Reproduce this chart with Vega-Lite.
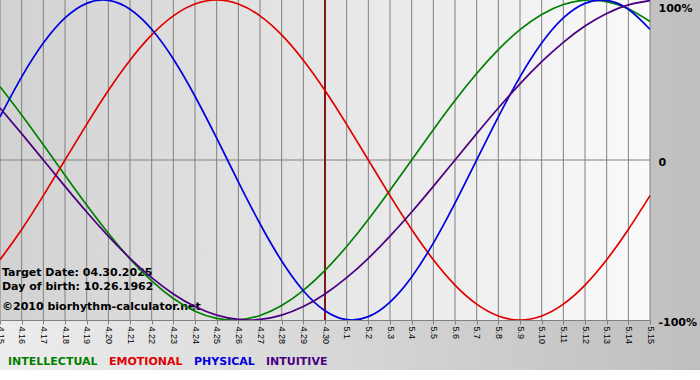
{
  "$schema": "https://vega.github.io/schema/vega-lite/v6.json",
  "width": 650,
  "height": 320,
  "autosize": {"type": "none"},
  "padding": {"left": 0, "top": 0, "right": 50, "bottom": 60},
  "background": "#ffffff",
  "config": {
    "view": {"stroke": null},
    "axisX": {"labelOverlap": false, "labelBound": false, "labelFlush": false, "labelAngle": 90, "labelFont": "Liberation Sans", "labelFontSize": 9, "labelColor": "#000000", "labelPadding": 2, "grid": false, "domainColor": "#808080", "tickColor": "#808080", "tickSize": 4},
    "axisY": {"labelOverlap": false, "labelFlush": false, "labelFont": "DejaVu Sans", "labelFontWeight": "bold", "labelFontSize": 11, "labelColor": "#000000", "labelPadding": 8, "labelOffset": 2, "domain": false, "ticks": false, "grid": false}
  },
  "datasets": {
    "bio": [
      {"day":0,"series":"INTELLECTUAL","value":0.4582},{"day":1,"series":"INTELLECTUAL","value":0.2817},{"day":2,"series":"INTELLECTUAL","value":0.0951},{"day":3,"series":"INTELLECTUAL","value":-0.0951},{"day":4,"series":"INTELLECTUAL","value":-0.2817},{"day":5,"series":"INTELLECTUAL","value":-0.4582},{"day":6,"series":"INTELLECTUAL","value":-0.6182},{"day":7,"series":"INTELLECTUAL","value":-0.7557},{"day":8,"series":"INTELLECTUAL","value":-0.866},{"day":9,"series":"INTELLECTUAL","value":-0.945},{"day":10,"series":"INTELLECTUAL","value":-0.9898},{"day":11,"series":"INTELLECTUAL","value":-0.9989},{"day":12,"series":"INTELLECTUAL","value":-0.9718},{"day":13,"series":"INTELLECTUAL","value":-0.9096},{"day":14,"series":"INTELLECTUAL","value":-0.8146},{"day":15,"series":"INTELLECTUAL","value":-0.6901},{"day":16,"series":"INTELLECTUAL","value":-0.5406},{"day":17,"series":"INTELLECTUAL","value":-0.3717},{"day":18,"series":"INTELLECTUAL","value":-0.1893},{"day":19,"series":"INTELLECTUAL","value":0},{"day":20,"series":"INTELLECTUAL","value":0.1893},{"day":21,"series":"INTELLECTUAL","value":0.3717},{"day":22,"series":"INTELLECTUAL","value":0.5406},{"day":23,"series":"INTELLECTUAL","value":0.6901},{"day":24,"series":"INTELLECTUAL","value":0.8146},{"day":25,"series":"INTELLECTUAL","value":0.9096},{"day":26,"series":"INTELLECTUAL","value":0.9718},{"day":27,"series":"INTELLECTUAL","value":0.9989},{"day":28,"series":"INTELLECTUAL","value":0.9898},{"day":29,"series":"INTELLECTUAL","value":0.945},{"day":30,"series":"INTELLECTUAL","value":0.866},
      {"day":0,"series":"EMOTIONAL","value":-0.6235},{"day":1,"series":"EMOTIONAL","value":-0.4339},{"day":2,"series":"EMOTIONAL","value":-0.2225},{"day":3,"series":"EMOTIONAL","value":0},{"day":4,"series":"EMOTIONAL","value":0.2225},{"day":5,"series":"EMOTIONAL","value":0.4339},{"day":6,"series":"EMOTIONAL","value":0.6235},{"day":7,"series":"EMOTIONAL","value":0.7818},{"day":8,"series":"EMOTIONAL","value":0.901},{"day":9,"series":"EMOTIONAL","value":0.9749},{"day":10,"series":"EMOTIONAL","value":1},{"day":11,"series":"EMOTIONAL","value":0.9749},{"day":12,"series":"EMOTIONAL","value":0.901},{"day":13,"series":"EMOTIONAL","value":0.7818},{"day":14,"series":"EMOTIONAL","value":0.6235},{"day":15,"series":"EMOTIONAL","value":0.4339},{"day":16,"series":"EMOTIONAL","value":0.2225},{"day":17,"series":"EMOTIONAL","value":0},{"day":18,"series":"EMOTIONAL","value":-0.2225},{"day":19,"series":"EMOTIONAL","value":-0.4339},{"day":20,"series":"EMOTIONAL","value":-0.6235},{"day":21,"series":"EMOTIONAL","value":-0.7818},{"day":22,"series":"EMOTIONAL","value":-0.901},{"day":23,"series":"EMOTIONAL","value":-0.9749},{"day":24,"series":"EMOTIONAL","value":-1},{"day":25,"series":"EMOTIONAL","value":-0.9749},{"day":26,"series":"EMOTIONAL","value":-0.901},{"day":27,"series":"EMOTIONAL","value":-0.7818},{"day":28,"series":"EMOTIONAL","value":-0.6235},{"day":29,"series":"EMOTIONAL","value":-0.4339},{"day":30,"series":"EMOTIONAL","value":-0.2225},
      {"day":0,"series":"PHYSICAL","value":0.2698},{"day":1,"series":"PHYSICAL","value":0.5196},{"day":2,"series":"PHYSICAL","value":0.7308},{"day":3,"series":"PHYSICAL","value":0.8879},{"day":4,"series":"PHYSICAL","value":0.9791},{"day":5,"series":"PHYSICAL","value":0.9977},{"day":6,"series":"PHYSICAL","value":0.9423},{"day":7,"series":"PHYSICAL","value":0.817},{"day":8,"series":"PHYSICAL","value":0.6311},{"day":9,"series":"PHYSICAL","value":0.3984},{"day":10,"series":"PHYSICAL","value":0.1362},{"day":11,"series":"PHYSICAL","value":-0.1362},{"day":12,"series":"PHYSICAL","value":-0.3984},{"day":13,"series":"PHYSICAL","value":-0.6311},{"day":14,"series":"PHYSICAL","value":-0.817},{"day":15,"series":"PHYSICAL","value":-0.9423},{"day":16,"series":"PHYSICAL","value":-0.9977},{"day":17,"series":"PHYSICAL","value":-0.9791},{"day":18,"series":"PHYSICAL","value":-0.8879},{"day":19,"series":"PHYSICAL","value":-0.7308},{"day":20,"series":"PHYSICAL","value":-0.5196},{"day":21,"series":"PHYSICAL","value":-0.2698},{"day":22,"series":"PHYSICAL","value":0},{"day":23,"series":"PHYSICAL","value":0.2698},{"day":24,"series":"PHYSICAL","value":0.5196},{"day":25,"series":"PHYSICAL","value":0.7308},{"day":26,"series":"PHYSICAL","value":0.8879},{"day":27,"series":"PHYSICAL","value":0.9791},{"day":28,"series":"PHYSICAL","value":0.9977},{"day":29,"series":"PHYSICAL","value":0.9423},{"day":30,"series":"PHYSICAL","value":0.817},
      {"day":0,"series":"INTUITIVE","value":0.3247},{"day":1,"series":"INTUITIVE","value":0.1646},{"day":2,"series":"INTUITIVE","value":0},{"day":3,"series":"INTUITIVE","value":-0.1646},{"day":4,"series":"INTUITIVE","value":-0.3247},{"day":5,"series":"INTUITIVE","value":-0.4759},{"day":6,"series":"INTUITIVE","value":-0.6142},{"day":7,"series":"INTUITIVE","value":-0.7357},{"day":8,"series":"INTUITIVE","value":-0.8372},{"day":9,"series":"INTUITIVE","value":-0.9158},{"day":10,"series":"INTUITIVE","value":-0.9694},{"day":11,"series":"INTUITIVE","value":-0.9966},{"day":12,"series":"INTUITIVE","value":-0.9966},{"day":13,"series":"INTUITIVE","value":-0.9694},{"day":14,"series":"INTUITIVE","value":-0.9158},{"day":15,"series":"INTUITIVE","value":-0.8372},{"day":16,"series":"INTUITIVE","value":-0.7357},{"day":17,"series":"INTUITIVE","value":-0.6142},{"day":18,"series":"INTUITIVE","value":-0.4759},{"day":19,"series":"INTUITIVE","value":-0.3247},{"day":20,"series":"INTUITIVE","value":-0.1646},{"day":21,"series":"INTUITIVE","value":0},{"day":22,"series":"INTUITIVE","value":0.1646},{"day":23,"series":"INTUITIVE","value":0.3247},{"day":24,"series":"INTUITIVE","value":0.4759},{"day":25,"series":"INTUITIVE","value":0.6142},{"day":26,"series":"INTUITIVE","value":0.7357},{"day":27,"series":"INTUITIVE","value":0.8372},{"day":28,"series":"INTUITIVE","value":0.9158},{"day":29,"series":"INTUITIVE","value":0.9694},{"day":30,"series":"INTUITIVE","value":0.9966}
    ]
  },
  "layer": [
    {
      "data": {"values": [{}]},
      "mark": {"type": "rect", "stroke": null, "fill": {"gradient": "linear", "x1": 0, "y1": 0, "x2": 1, "y2": 0, "stops": [{"offset": 0, "color": "#ededed"}, {"offset": 1, "color": "#bfbfbf"}]}},
      "encoding": {
        "x": {"datum": 0, "type": "quantitative", "scale": {"domain": [0, 30], "nice": false, "zero": false}},
        "x2": {"datum": 32.3077},
        "y": {"datum": 1, "type": "quantitative", "scale": {"domain": [-1, 1], "nice": false, "zero": false}},
        "y2": {"datum": -1.3125}
      }
    },
    {
      "data": {"values": [{}]},
      "mark": {"type": "rect", "stroke": null, "fill": {"gradient": "linear", "x1": 0, "y1": 0, "x2": 1, "y2": 0, "stops": [{"offset": 0, "color": "#d2d2d2"}, {"offset": 1, "color": "#fafafa"}]}},
      "encoding": {
        "x": {"datum": 0, "type": "quantitative"},
        "x2": {"datum": 30},
        "y": {"datum": 1, "type": "quantitative"},
        "y2": {"datum": -1}
      }
    },
    {
      "data": {"name": "bio"},
      "transform": [{"filter": "datum.series == 'INTELLECTUAL'"}],
      "mark": {"type": "rule", "color": "#808080", "strokeWidth": 1},
      "encoding": {"x": {"field": "day", "type": "quantitative"}}
    },
    {
      "data": {"values": [{}]},
      "mark": {"type": "rule", "color": "#808080", "strokeWidth": 1},
      "encoding": {"y": {"datum": 0, "type": "quantitative"}}
    },
    {
      "data": {"values": [{"label": "Target Date: 04.30.2025"}]},
      "mark": {"type": "text", "font": "DejaVu Sans", "fontWeight": "bold", "fontSize": 11, "color": "#000000", "align": "left", "baseline": "alphabetic"},
      "encoding": {"x": {"datum": 0.092, "type": "quantitative"}, "y": {"datum": -0.7219, "type": "quantitative"}, "text": {"field": "label"}}
    },
    {
      "data": {"values": [{"label": "Day of birth: 10.26.1962"}]},
      "mark": {"type": "text", "font": "DejaVu Sans", "fontWeight": "bold", "fontSize": 11, "color": "#000000", "align": "left", "baseline": "alphabetic"},
      "encoding": {"x": {"datum": 0.092, "type": "quantitative"}, "y": {"datum": -0.8094, "type": "quantitative"}, "text": {"field": "label"}}
    },
    {
      "data": {"values": [{"label": "©2010 biorhythm-calculator.net"}]},
      "mark": {"type": "text", "font": "DejaVu Sans", "fontWeight": "bold", "fontSize": 11, "color": "#000000", "align": "left", "baseline": "alphabetic"},
      "encoding": {"x": {"datum": 0.092, "type": "quantitative"}, "y": {"datum": -0.9375, "type": "quantitative"}, "text": {"field": "label"}}
    },
    {
      "data": {"values": [{}]},
      "mark": {"type": "rule", "color": "#801818", "strokeWidth": 2},
      "encoding": {"x": {"datum": 15, "type": "quantitative"}}
    },
    {
      "data": {"name": "bio"},
      "mark": {"type": "line", "strokeWidth": 1.7, "interpolate": "natural"},
      "encoding": {
        "x": {"field": "day", "type": "quantitative", "scale": {"domain": [0, 30], "nice": false, "zero": false},
          "axis": {"title": null, "zindex": 1, "tickCount": 31, "values": [0,1,2,3,4,5,6,7,8,9,10,11,12,13,14,15,16,17,18,19,20,21,22,23,24,25,26,27,28,29,30],
            "labelExpr": "datum.value <= 15 ? '4.' + (15 + datum.value) : '5.' + (datum.value - 15)",
            "labelOverlap": false, "labelBound": false, "labelFlush": false}},
        "y": {"field": "value", "type": "quantitative", "scale": {"domain": [-1, 1], "nice": false, "zero": false},
          "axis": {"title": null, "zindex": 1, "orient": "right", "values": [1, 0, -1],
            "labelExpr": "datum.value == 1 ? '100%' : (datum.value == 0 ? '0' : '-100%')",
            "labelBaseline": {"condition": {"test": "datum.value == 1", "value": "top"}, "value": "middle"}}},
        "color": {"field": "series", "type": "nominal",
          "scale": {"domain": ["INTELLECTUAL", "EMOTIONAL", "PHYSICAL", "INTUITIVE"], "range": ["#008000", "#e00000", "#0000e0", "#4b0082"]},
          "legend": {"title": null, "orient": "none", "legendX": -3, "legendY": 356, "direction": "horizontal",
            "symbolSize": 0.01, "symbolOpacity": 0, "symbolStrokeWidth": 0, "labelOffset": 0, "columnPadding": -1.5, "padding": 0,
            "labelFont": "DejaVu Sans", "labelFontWeight": "bold", "labelFontSize": 11, "labelLimit": 300,
            "encode": {"labels": {"update": {"fill": {"scale": "color", "field": "value"}}}}}}
      }
    }
  ]
}
